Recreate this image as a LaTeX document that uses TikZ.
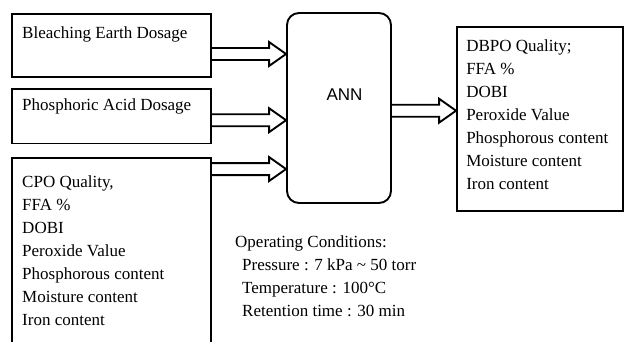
\documentclass[tikz,border=0pt]{standalone}
\usepackage{fontspec}
\setmainfont{Liberation Serif}
\newfontfamily\annfont{Liberation Sans}
\usetikzlibrary{positioning,calc}

\tikzset{
  box/.style={draw=black,line width=1.9pt,minimum width=199pt,inner sep=0pt},
  txt/.style={font=\fontsize{17}{23}\selectfont,align=left,inner sep=0pt},
  arrline/.style={draw=black,line width=1.9pt,line join=miter}
}
\newcommand{\blockarrow}[2]{%
  \draw[arrline] let \p1=(#1), \p2=(#2.west |- #1) in
    (\x1,\y1+6pt) -- (\x2-17pt,\y1+6pt) -- (\x2-17pt,\y1+12pt) -- (\x2,\y1)
    -- (\x2-17pt,\y1-12pt) -- (\x2-17pt,\y1-6pt) -- (\x1,\y1-6pt);}

\begin{document}
\begin{tikzpicture}[x=1pt,y=-1pt]
  \clip (0,0) rectangle (625,341);
  % input boxes
  \node[box,minimum height=63pt] (earth) at (111.5,45.5) {};
  \node[box,minimum height=54.5pt] (acid) at (111.5,116.2) {};
  \node[box,minimum height=192pt] (cpo) at (111.5,254) {};
  \node[txt,below right=13pt and 11pt of earth.north west] (earthtxt) {Bleaching Earth Dosage};
  \node[txt,below right=11pt and 11pt of acid.north west] (acidtxt) {Phosphoric Acid Dosage};
  \node[txt,below right=18pt and 11pt of cpo.north west] (cpotxt)
    {CPO Quality,\\FFA \%\\DOBI\\Peroxide Value\\Phosphorous content\\Moisture content\\Iron content};
  % network
  \node[draw=black,line width=1.9pt,rounded corners=12pt,minimum width=104pt,minimum height=190pt] (ann) at (339,108) {};
  \node[font=\annfont\fontsize{17}{20}\selectfont,anchor=base,inner sep=0pt] (anntxt) at ([shift={(5.5pt,8pt)}]ann.center) {ANN};
  % output
  \node[box,minimum width=166pt,minimum height=184pt] (dbpo) at (540,119) {};
  \node[txt,below right=13pt and 10pt of dbpo.north west] (dbpotxt)
    {DBPO Quality;\\FFA \%\\DOBI\\Peroxide Value\\Phosphorous content\\Moisture content\\Iron content};
  % conditions
  \node[txt,anchor=north west] (cond) at (235,235)
    {Operating Conditions:\\\hspace{7pt}Pressure : 7 kPa \textasciitilde\ 50 torr\\\hspace{7pt}Temperature : 100°C\\\hspace{7pt}Retention time : 30 min};
  % arrows
  \coordinate (s1) at ([yshift=-8.5pt]earth.east);
  \coordinate (s2) at ([yshift=-4pt]acid.east);
  \coordinate (s3) at ([yshift=-12pt]cpo.north east);
  \coordinate (s4) at ([yshift=-2.7pt]ann.east);
  \blockarrow{s1}{ann}
  \blockarrow{s2}{ann}
  \blockarrow{s3}{ann}
  \blockarrow{s4}{dbpo}
\end{tikzpicture}
\end{document}
